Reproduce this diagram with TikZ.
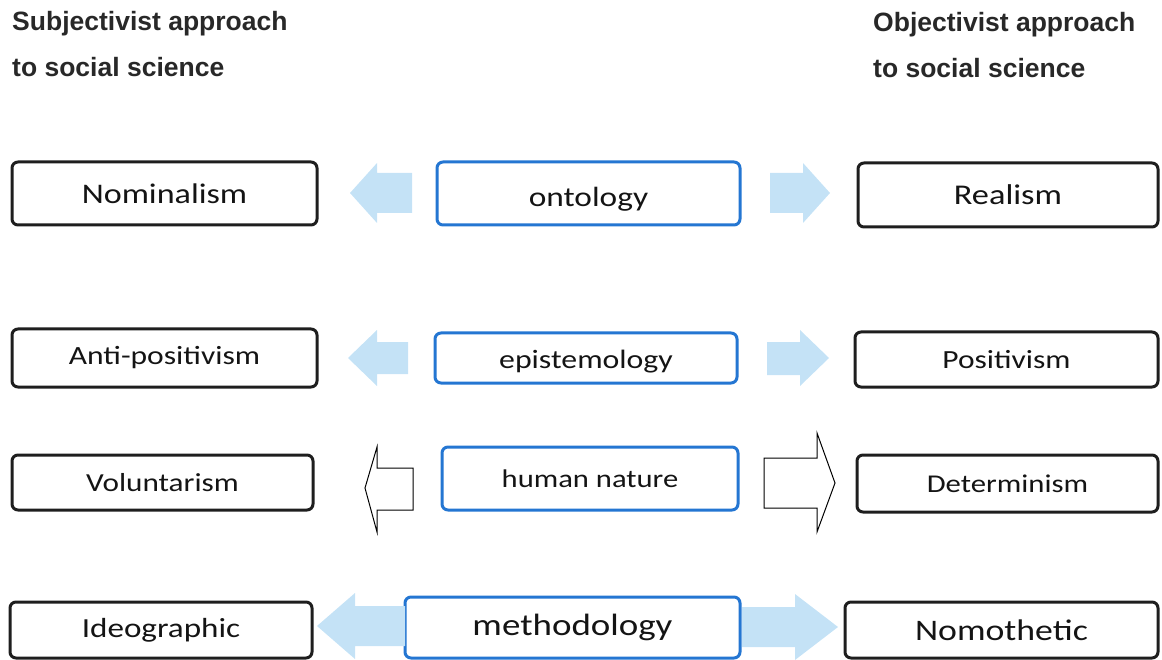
\documentclass[tikz,border=0pt]{standalone}
\usepackage{fontspec}
\usepackage{xcolor}
\usetikzlibrary{positioning,calc}
\setmainfont{Carlito}
\newfontfamily\boxfont{Carlito}[FakeStretch=1.2]
\newfontfamily\headfont{Liberation Sans}
\definecolor{frame}{RGB}{30,30,30}
\definecolor{themeblue}{RGB}{36,118,210}
\definecolor{arrowblue}{RGB}{196,226,246}
\definecolor{headgray}{RGB}{40,40,40}

\tikzset{
  sidebox/.style={draw=frame,line width=3pt,rounded corners=6pt,fill=white,inner sep=0pt},
  themebox/.style={draw=themeblue,line width=3pt,rounded corners=6pt,fill=white,inner sep=0pt},
  txt/.style={font=\boxfont\fontsize{#1}{#1}\selectfont,text=black!92},
  headtxt/.style={font=\headfont\bfseries\fontsize{26.5}{26.5}\selectfont,text=headgray,anchor=base west,inner sep=0pt},
  softarrow/.style={fill=arrowblue},
  openarrow/.style={draw=black,line width=1pt,fill=white,line join=miter}
}

\begin{document}
\begin{tikzpicture}[x=1pt,y=-1pt]
\useasboundingbox (0,0) rectangle (1162,660);

% headings
\node[headtxt] (subjA) at (12,31) {Subjectivist approach};
\node[headtxt] (subjB) at (12,77) {to social science};
\node[headtxt] (objA) at (873,32) {Objectivist approach};
\node[headtxt] (objB) at (873,78) {to social science};

% row 1
\node[sidebox,minimum width=305,minimum height=63,txt=28.4] (nom) at (164.5,193.5) {Nominalism};
\node[themebox,minimum width=303,minimum height=63,txt=27.8,text height=26,text depth=0pt] (ont) at (588.5,193.5) {ontology};
\node[sidebox,minimum width=300,minimum height=64,txt=28.6] (real) at (1008,195) {Realism};

% row 2
\node[sidebox,minimum width=305,minimum height=58,txt=26.3] (anti) at (164.5,358) {Anti-positivism};
\node[themebox,minimum width=302,minimum height=50,txt=26.5,text height=20,text depth=0pt] (epi) at (586,358) {epistemology};
\node[sidebox,minimum width=303,minimum height=55,txt=26.2] (pos) at (1006.5,359.5) {Positivism};

% row 3
\node[sidebox,minimum width=301,minimum height=55,txt=26] (vol) at (162.5,482.5) {Voluntarism};
\node[themebox,minimum width=296,minimum height=63,txt=25.5] (hum) at (590,478.5) {human nature};
\node[sidebox,minimum width=301,minimum height=57,txt=25.6] (det) at (1007.5,483.5) {Determinism};

% row 4
\node[sidebox,minimum width=302,minimum height=56,txt=27.6] (ideo) at (161,630) {Ideographic};
\node[themebox,minimum width=335,minimum height=61,txt=30.8] (meth) at (572.5,627.5) {methodology};
\node[sidebox,minimum width=313,minimum height=56,txt=29.8] (nomo) at (1001.5,630) {Nomothetic};

% block arrows
\fill[softarrow] (350,193) -- (377,163) -- (377,173) -- (412,173) -- (412,213) -- (377,213) -- (377,223) -- cycle;
\fill[softarrow] (830,193) -- (803,163) -- (803,173) -- (770,173) -- (770,213) -- (803,213) -- (803,223) -- cycle;
\fill[softarrow] (348,358) -- (377,330) -- (377,342) -- (408,342) -- (408,374) -- (377,374) -- (377,386) -- cycle;
\fill[softarrow] (829,358) -- (800,330) -- (800,342) -- (767,342) -- (767,375) -- (800,375) -- (800,386) -- cycle;
\draw[openarrow] (365,488) -- (377,447) -- (377,468) -- (413,468) -- (413,510) -- (377,510) -- (377,532) -- cycle;
\draw[openarrow] (835,483) -- (817,433) -- (817,458) -- (764,458) -- (764,508) -- (817,508) -- (817,532) -- cycle;
\fill[softarrow] (317,626) -- (355,593) -- (355,606) -- (405,606) -- (405,646) -- (355,646) -- (355,659) -- cycle;
\fill[softarrow] (838,627) -- (795,594) -- (795,607) -- (742,607) -- (742,647) -- (795,647) -- (795,660) -- cycle;
\end{tikzpicture}
\end{document}
